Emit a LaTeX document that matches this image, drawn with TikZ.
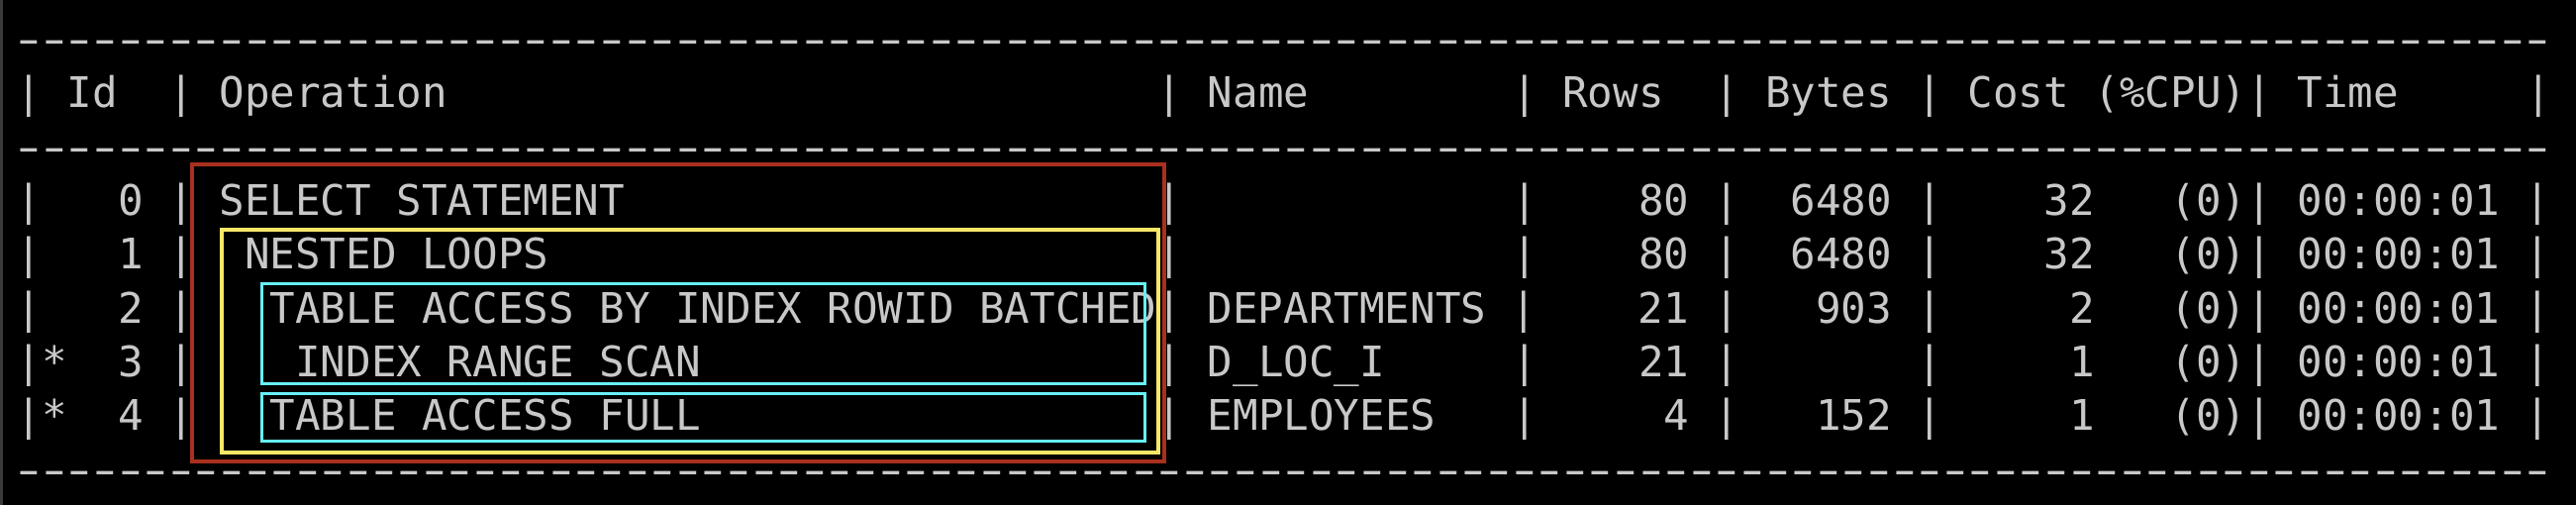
\documentclass[tikz,border=0pt]{standalone}
\usepackage{fontspec}
\setmonofont{DejaVu Sans Mono}
\definecolor{termgray}{HTML}{C8C8C8}
\definecolor{edgegray}{HTML}{3A3A3A}
\definecolor{planred}{HTML}{A8301E}
\definecolor{planyellow}{HTML}{F8E868}
\definecolor{plancyan}{HTML}{66F0F8}
% runs of blanks and the dashed rule of the plan
\newcommand{\gap}[1]{\foreach\k in {1,...,#1}{~}}
\newcommand{\dashrow}{\foreach\k in {1,...,100}{\makebox[0.60205em]{\scalebox{1.55}[1]{-}}}}
\begin{document}
\begin{tikzpicture}[x=1pt,y=-1pt,
	txt/.style={anchor=base west, inner sep=0pt, text=termgray, font=\ttfamily\fontsize{42.52}{54.3}\selectfont},
	box/.style={line width=#1}]
	
	\useasboundingbox (0,0) rectangle (2602,510);
	\fill[black] (0,0) rectangle (2602,510);
	\fill[edgegray] (0,0) rectangle (3.3,510);
	
	\node[txt] (D0) at (16.5,54.6) {\dashrow};
	\node[txt] (H) at (16.5,108.9) {|~Id~~|~Operation\gap{28}|~Name\gap{8}|~Rows~~|~Bytes~|~Cost~(\%CPU)|~Time\gap{5}|};
	\node[txt] (D1) at (16.5,163.2) {\dashrow};
	\node[txt] (R0) at (16.5,217.5) {|~~~0~|~SELECT~STATEMENT\gap{21}|\gap{13}|~~~~80~|~~6480~|~~~~32~~~(0)|~00:00:01~|};
	\node[txt] (R1) at (16.5,271.8) {|~~~1~|~~NESTED~LOOPS\gap{24}|\gap{13}|~~~~80~|~~6480~|~~~~32~~~(0)|~00:00:01~|};
	\node[txt] (R2) at (16.5,326.1) {|~~~2~|~~~TABLE~ACCESS~BY~INDEX~ROWID~BATCHED|~DEPARTMENTS~|~~~~21~|~~~903~|~~~~~2~~~(0)|~00:00:01~|};
	\node[txt] (R3) at (16.5,380.4) {|*~~3~|~~~~INDEX~RANGE~SCAN\gap{18}|~D\_LOC\_I\gap{5}|~~~~21~|\gap{7}|~~~~~1~~~(0)|~00:00:01~|};
	\node[txt] (R4) at (16.5,434.7) {|*~~4~|~~~TABLE~ACCESS~FULL\gap{18}|~EMPLOYEES~~~|~~~~~4~|~~~152~|~~~~~1~~~(0)|~00:00:01~|};
	\node[txt] (D2) at (16.5,489.0) {\dashrow};
	
	\draw[planred, box=4pt] (194.3,166) rectangle (1176,466);
	\draw[planyellow, box=4pt] (223.7,232) rectangle (1170,457.3);
	\draw[plancyan, box=2.7pt] (264.5,286.7) rectangle (1156.5,387.5);
	\draw[plancyan, box=2.7pt] (264.5,397.5) rectangle (1156.5,445.5);
	
\end{tikzpicture}
\end{document}
